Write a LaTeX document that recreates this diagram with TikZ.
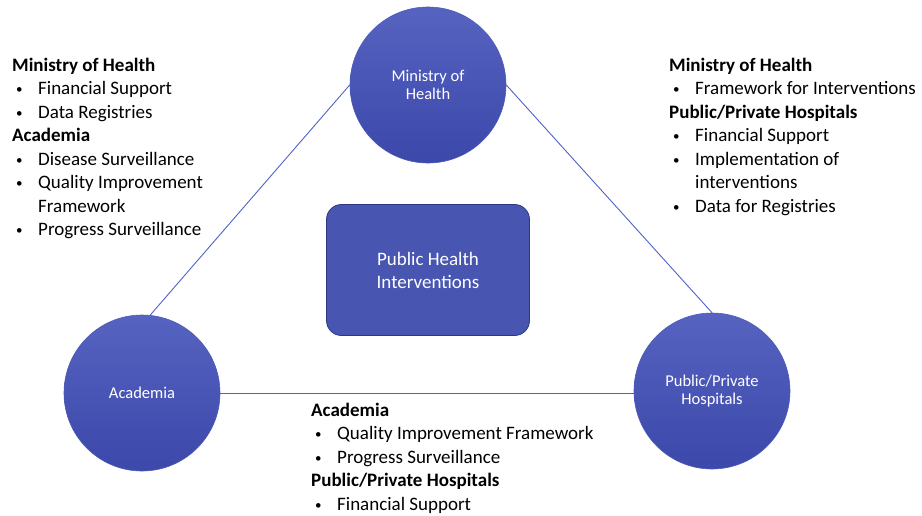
\documentclass[tikz,border=0pt]{standalone}
\usepackage{fontspec}
\setmainfont{Carlito}
\usetikzlibrary{backgrounds}
\definecolor{circtop}{RGB}{86,99,192}
\definecolor{circbot}{RGB}{60,72,170}
\definecolor{edgeblue}{RGB}{78,90,182}
\definecolor{hubfill}{RGB}{72,86,178}
\definecolor{hubedge}{RGB}{46,56,130}
\definecolor{linkblue}{RGB}{80,98,200}
% small list bullet and hanging indent
\newcommand\bul{\hspace*{4pt}\makebox[22pt][l]{\raisebox{1pt}{\fontsize{13}{13}\selectfont\textbullet}}}
\newcommand\cont{\hspace*{26pt}}
\begin{document}
\begin{tikzpicture}[x=1pt,y=-1pt,
  actor/.style={circle, minimum size=156pt, inner sep=0pt, draw=edgeblue, line width=0.6pt,
    top color=circtop, bottom color=circbot, text=white, align=center,
    font=\fontsize{16.5}{18.5}\selectfont},
  hub/.style={rectangle, rounded corners=15pt, minimum width=203pt, minimum height=131pt,
    draw=hubedge, line width=0.8pt, fill=hubfill, text=white, align=center,
    font=\fontsize{19}{23}\selectfont},
  link/.style={draw=linkblue, line width=0.9pt},
  notes/.style={anchor=base west, inner sep=0pt, align=left,
    font=\fontsize{19}{23.5}\selectfont}
]
\useasboundingbox (0,0) rectangle (922,515);

% partners and the shared goal
\node[actor] (moh)  at (428,85)  {Ministry of\\Health};
\node[actor] (aca)  at (142,393) {Academia};
\node[actor] (hosp) at (712,391) {Public/Private\\Hospitals};
\node[hub]   (phi)  at (428,270) {Public Health\\Interventions};

% triangle of collaboration
\begin{scope}[on background layer]
  \draw[link] (moh.west) -- (aca.84);
  \draw[link] (moh.east) -- (hosp.north);
  \draw[link] (aca.east) -- (aca.east -| hosp.west);
\end{scope}

% contributions of each partnership (anchored at the last baseline)
\node[notes] (left) at (12,235.5) {\textbf{Ministry of Health}\\
\bul Financial Support\\
\bul Data Registries\\
\textbf{Academia}\\
\bul Disease Surveillance\\
\bul Quality Improvement\\
\cont Framework\\
\bul Progress Surveillance};

\node[notes] (right) at (669,212) {\textbf{Ministry of Health}\\
\bul Framework for Interventions\\
\textbf{Public/Private Hospitals}\\
\bul Financial Support\\
\bul Implementation of\\
\cont interventions\\
\bul Data for Registries};

\node[notes] (bottom) at (311,510) {\textbf{Academia}\\
\bul Quality Improvement Framework\\
\bul Progress Surveillance\\
\textbf{Public/Private Hospitals}\\
\bul Financial Support};
\end{tikzpicture}
\end{document}
